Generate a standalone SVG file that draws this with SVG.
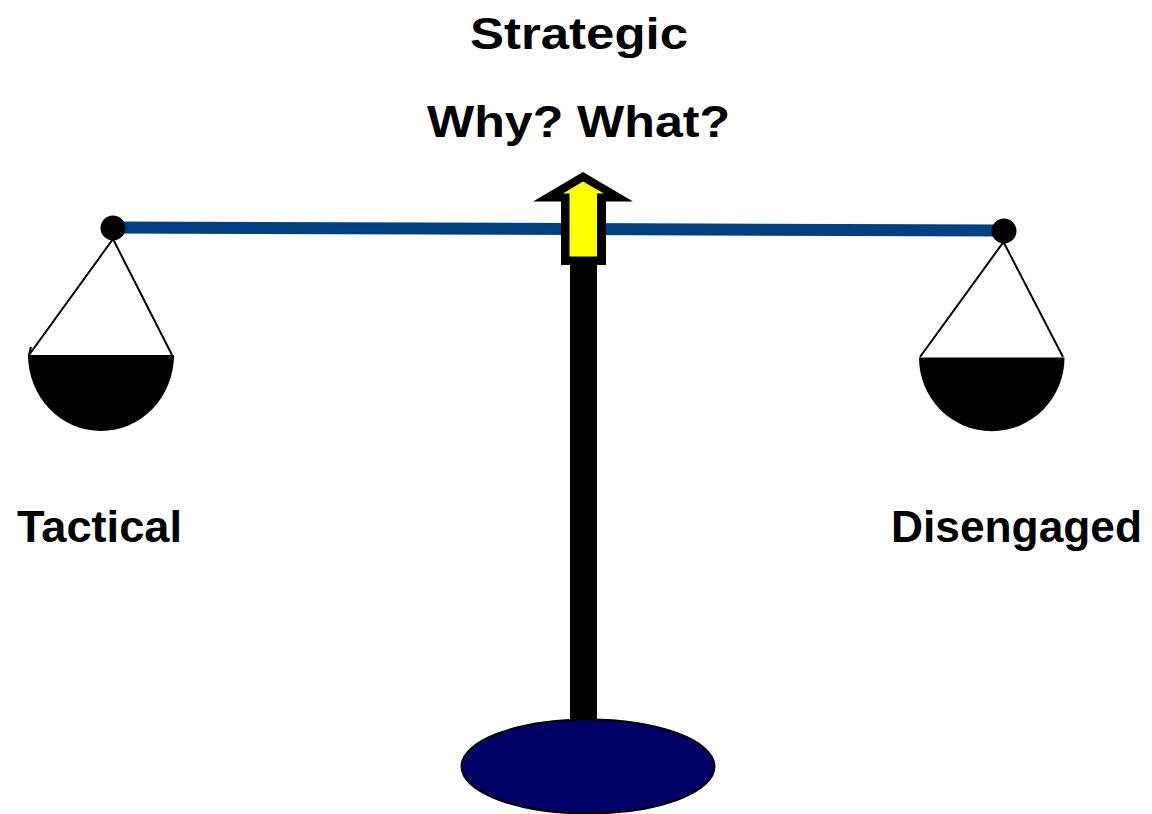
<svg xmlns="http://www.w3.org/2000/svg" width="1152" height="814" viewBox="0 0 1152 814">
  <style>
    .label { font-family: "Liberation Sans", Arial, sans-serif; font-weight: bold; fill: #000; }
    .string { stroke: #000; stroke-width: 2; fill: none; }
    .pan { fill: #000; }
  </style>
  <rect width="1152" height="814" fill="#fff"/>

  <!-- headings -->
  <g id="strategic">
    <text class="label" x="470" y="49" font-size="45" textLength="218" lengthAdjust="spacingAndGlyphs">Strategic</text>
    <text class="label" x="427" y="137" font-size="45" textLength="303" lengthAdjust="spacingAndGlyphs">Why? What?</text>
  </g>

  <!-- vertical post and base -->
  <g id="stand">
    <rect x="570" y="255" width="27" height="470" fill="#000"/>
    <ellipse cx="588" cy="766.5" rx="126.5" ry="47" fill="#000066" stroke="#000" stroke-width="2"/>
  </g>

  <!-- balance beam -->
  <g id="beam">
    <line x1="113" y1="227.5" x2="1004" y2="230.5" stroke="#004080" stroke-width="12"/>
    <circle cx="113" cy="228" r="12.5" fill="#000"/>
    <circle cx="1004" cy="231" r="12.5" fill="#000"/>
  </g>

  <!-- pointer arrow at the pivot -->
  <g id="pointer">
    <path d="M583,172 L633,201.5 L606,201.5 L606,265 L561,265 L561,201.5 L533,201.5 Z" fill="#000"/>
    <path d="M583,181.5 L604,193.5 L597,193.5 L597,256.5 L569.5,256.5 L569.5,193.5 L563,193.5 Z" fill="#ffff00"/>
  </g>

  <!-- left pan -->
  <g id="tactical">
    <polyline class="string" points="29,355 113,239 172,355"/>
    <path class="string" d="M29,355 L31,347" stroke-width="1.5"/>
    <path class="pan" d="M28,355 A73,76 0 0 0 174,355 Z"/>
    <text class="label" x="17" y="541.5" font-size="44" textLength="165" lengthAdjust="spacingAndGlyphs">Tactical</text>
  </g>

  <!-- right pan -->
  <g id="disengaged">
    <polyline class="string" points="920,357 1003.5,242 1063,357"/>
    <path class="pan" d="M919,357.5 A72.5,73.5 0 0 0 1064.5,357.5 Z"/>
    <text class="label" x="891" y="541.5" font-size="44" textLength="251" lengthAdjust="spacingAndGlyphs">Disengaged</text>
  </g>
</svg>
